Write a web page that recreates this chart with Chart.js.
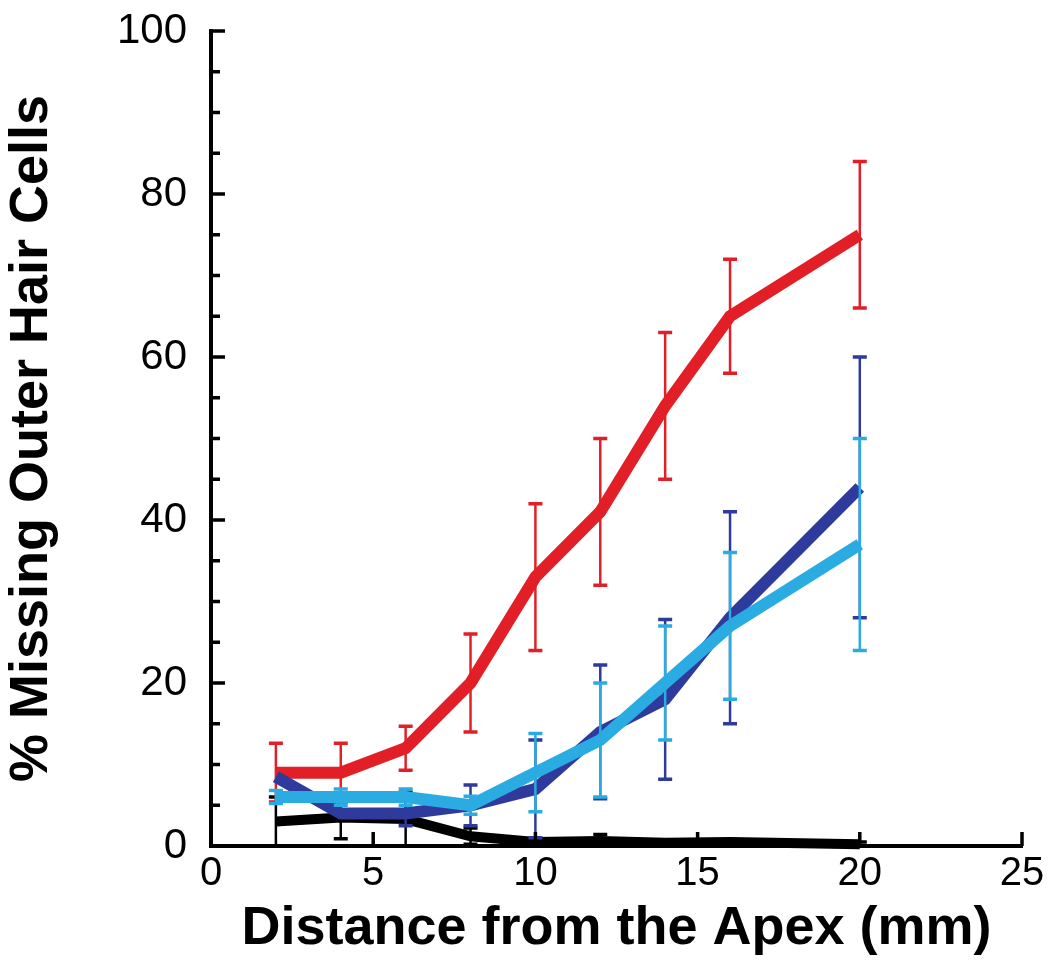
<!DOCTYPE html>
<html>
<head>
<meta charset="utf-8">
<title>% Missing Outer Hair Cells</title>
<script src="https://cdn.jsdelivr.net/npm/chart.js@4.4.1/dist/chart.umd.min.js"></script>
<style>
  html, body { margin: 0; padding: 0; background: #fff; }
  #wrap { width: 1050px; height: 963px; position: relative; }
</style>
</head>
<body>
<div id="wrap"><canvas id="ohcChart"></canvas></div>
<script>
/* ============================================
   DATA
   ============================================ */
const distance = [2, 4, 6, 8, 10, 12, 14, 16, 20];

const redLoss     = [9, 9, 12, 20, 33, 41, 54, 65, 75];
const redErr      = [3.6, 3.6, 2.7, 6, 9, 9, 9, 7, 9];

const darkBlueLoss = [8.5, 4, 4, 5, 7, 14, 18, 28, 44];
const darkBlueErr  = [0, 0, 1.5, 2.5, 6, 8.2, 9.8, 13, 16];

const lightBlueLoss = [6, 6, 6, 5, 9, 13, 20, 27, 37];
const lightBlueErr  = [0.8, 1, 1, 1.1, 4.8, 7, 7, 9, 13];

const blackLoss = [3, 3.5, 3.3, 1.2, 0.5, 0.6, 0.4, 0.5, 0.2];
const blackErr  = [3, 2.6, 3.3, 1, 0.3, 0.8, 0.3, 0.3, 0.3];

const xTicks = [0, 5, 10, 15, 20, 25];
const yTicks = [0, 20, 40, 60, 80, 100];
const yMinorStep = 5;

const RED = '#e21f26';
const DARK_BLUE = '#2e3a9c';
const LIGHT_BLUE = '#2aace2';
const FONT = "'Liberation Sans', Arial, Helvetica, sans-serif";

const toPoints = (ys) => ys.map((y, i) => ({ x: distance[i], y }));

// dataset index 0 is drawn on top
const seriesErrors = [lightBlueErr, darkBlueErr, redErr, blackErr];

/* ============================================
   PLUGINS: error bars + inward axis ticks
   ============================================ */
const errorBars = {
    id: 'errorBars',
    afterDatasetDraw(chart, args) {
        const errs = seriesErrors[args.index];
        if (!errs) return;
        const ds = chart.data.datasets[args.index];
        const xs = chart.scales.x, ys = chart.scales.y;
        const ctx = chart.ctx;
        ctx.save();
        ctx.strokeStyle = ds.borderColor;
        ctx.lineCap = 'butt';
        ds.data.forEach((p, i) => {
            const e = errs[i];
            if (!e) return;
            const px = xs.getPixelForValue(p.x);
            const top = ys.getPixelForValue(p.y + e);
            const bot = ys.getPixelForValue(Math.max(0, p.y - e));
            ctx.lineWidth = 2.5;
            ctx.beginPath();
            ctx.moveTo(px, top); ctx.lineTo(px, bot);
            ctx.stroke();
            ctx.lineWidth = 3.5;
            ctx.beginPath();
            ctx.moveTo(px - 7, top); ctx.lineTo(px + 7, top);
            ctx.moveTo(px - 7, bot); ctx.lineTo(px + 7, bot);
            ctx.stroke();
        });
        ctx.restore();
    }
};

const inwardTicks = {
    id: 'inwardTicks',
    afterDraw(chart) {
        const { ctx, chartArea } = chart;
        const xs = chart.scales.x, ys = chart.scales.y;
        ctx.save();
        ctx.strokeStyle = '#000';
        ctx.lineWidth = 3.5;
        ctx.beginPath();
        xTicks.forEach(v => {
            const px = xs.getPixelForValue(v);
            ctx.moveTo(px, chartArea.bottom);
            ctx.lineTo(px, chartArea.bottom - 14);
        });
        for (let v = 0; v <= 100; v += yMinorStep) {
            const py = ys.getPixelForValue(v);
            const len = yTicks.includes(v) ? 14 : 9;
            ctx.moveTo(chartArea.left, py);
            ctx.lineTo(chartArea.left + len, py);
        }
        ctx.stroke();
        ctx.restore();
    }
};

/* ============================================
   CHART
   ============================================ */
Chart.defaults.color = '#000';
Chart.defaults.font.family = FONT;

const lineStyle = {
    pointRadius: 0,
    tension: 0,
    borderWidth: 12,
    borderCapStyle: 'butt',
    borderJoinStyle: 'miter',
    fill: false,
    clip: false
};

new Chart(document.getElementById('ohcChart'), {
    type: 'line',
    data: {
        datasets: [
            { label: 'Light blue', data: toPoints(lightBlueLoss), borderColor: LIGHT_BLUE, ...lineStyle },
            { label: 'Dark blue', data: toPoints(darkBlueLoss), borderColor: DARK_BLUE, ...lineStyle },
            { label: 'Red', data: toPoints(redLoss), borderColor: RED, ...lineStyle },
            { label: 'Black', data: toPoints(blackLoss), borderColor: '#000', ...lineStyle, borderWidth: 10 }
        ]
    },
    options: {
        responsive: true,
        maintainAspectRatio: false,
        animation: false,
        layout: { padding: { left: 0, right: 28, top: 31, bottom: 0 } },
        plugins: {
            legend: { display: false },
            tooltip: { enabled: false }
        },
        scales: {
            x: {
                type: 'linear',
                min: 0, max: 25,
                afterFit: (s) => { s.height = 117; s.paddingLeft = 0; s.paddingRight = 0; },
                afterBuildTicks: (s) => { s.ticks = xTicks.map(v => ({ value: v })); },
                ticks: { font: { size: 40 }, padding: 4, maxRotation: 0 },
                grid: { display: true, drawOnChartArea: false, drawTicks: false },
                border: { color: '#000', width: 4 },
                title: {
                    display: true,
                    text: 'Distance from the Apex (mm)',
                    font: { size: 54, weight: 'bold' },
                    padding: { top: 0, bottom: 1 }
                }
            },
            y: {
                type: 'linear',
                min: 0, max: 100,
                afterFit: (s) => { s.width = 211; s.paddingTop = 0; s.paddingBottom = 0; },
                afterBuildTicks: (s) => { s.ticks = yTicks.map(v => ({ value: v })); },
                ticks: { font: { size: 42 }, padding: 24 },
                grid: { display: true, drawOnChartArea: false, drawTicks: false },
                border: { color: '#000', width: 4 },
                title: {
                    display: true,
                    text: '% Missing Outer Hair Cells',
                    font: { size: 54, weight: 'bold', lineHeight: 1 },
                    padding: { top: 5, bottom: 0 }
                }
            }
        }
    },
    plugins: [errorBars, inwardTicks]
});
</script>
</body>
</html>
